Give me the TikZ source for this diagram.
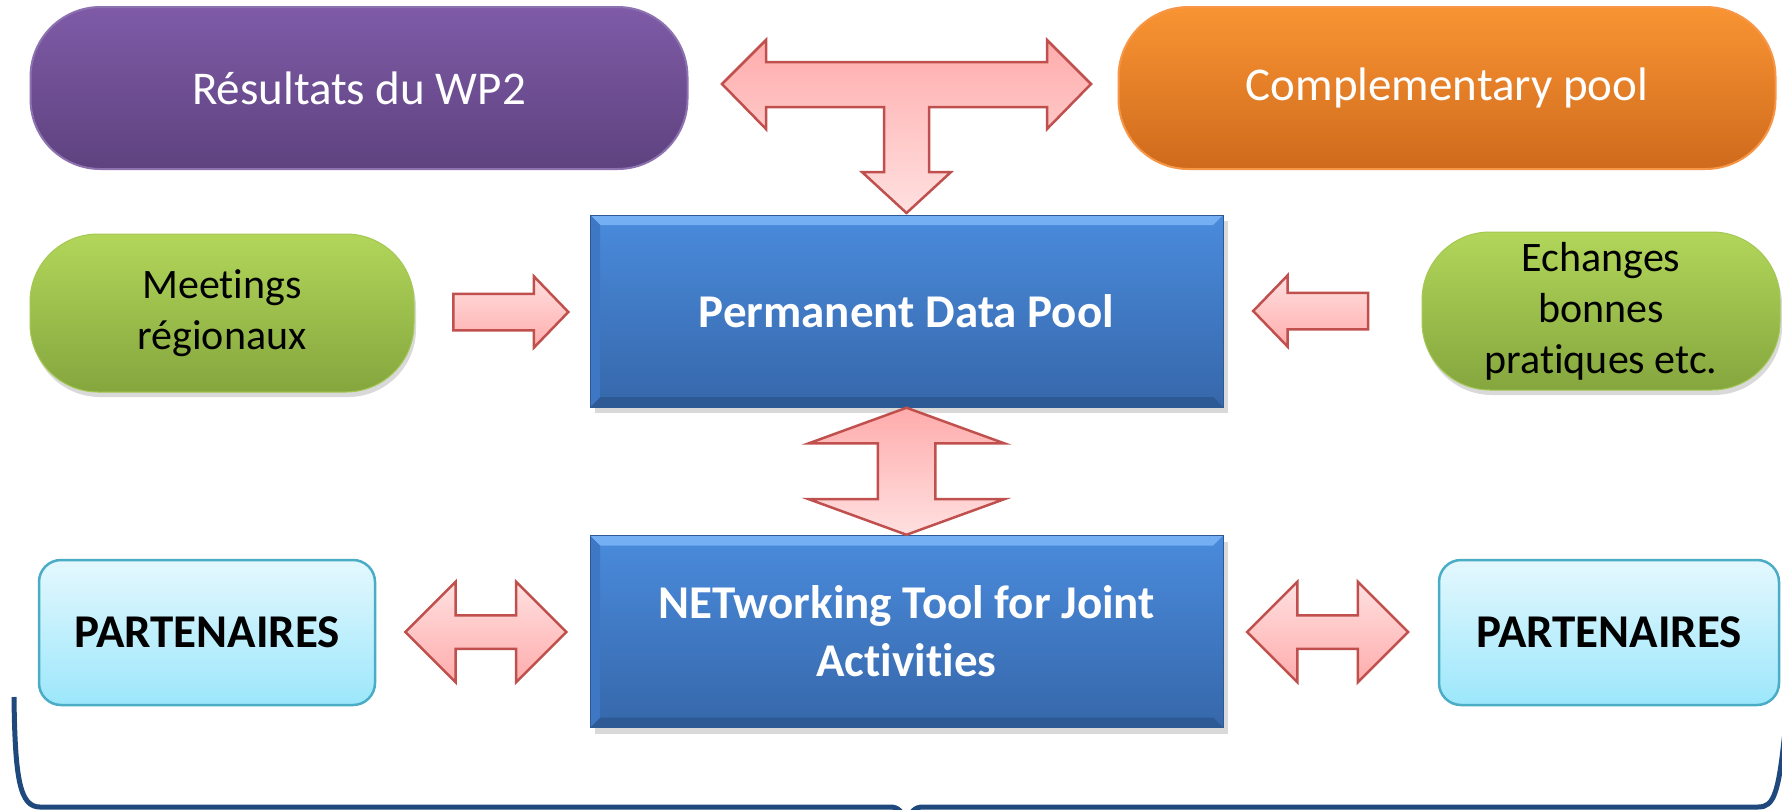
\documentclass[tikz,border=0pt]{standalone}
\usepackage{fontspec}
\setmainfont{Carlito}[Ligatures=NoCommon]
\usetikzlibrary{shapes.arrows,shadows,calc}

\definecolor{purpA}{HTML}{7F5BA7}
\definecolor{purpB}{HTML}{5E427F}
\definecolor{purpD}{HTML}{8D72B0}
\definecolor{orngA}{HTML}{F99433}
\definecolor{orngB}{HTML}{CF6A1D}
\definecolor{orngD}{HTML}{F79646}
\definecolor{grnA}{HTML}{B2D65A}
\definecolor{grnB}{HTML}{85A63E}
\definecolor{grnD}{HTML}{A3C853}
\definecolor{bluA}{HTML}{4A8BDC}
\definecolor{bluB}{HTML}{3667AA}
\definecolor{bluL}{HTML}{74AEF3}
\definecolor{bluK}{HTML}{2D5A94}
\definecolor{bluS}{HTML}{3E78C4}
\definecolor{cyanA}{HTML}{E4F8FE}
\definecolor{cyanB}{HTML}{9CE7FB}
\definecolor{cyanD}{HTML}{4BACC6}
\definecolor{pinkA}{HTML}{FFACAC}
\definecolor{pinkB}{HTML}{FFE0E0}
\definecolor{arrD}{HTML}{C0504D}
\definecolor{navy}{HTML}{1F497D}

\begin{document}
\begin{tikzpicture}[x=1pt, y=-1pt,
				every node/.style = {inner sep=0pt, align=center},
				pill/.style = {rounded corners=70pt, minimum width=657pt, minimum height=162pt,
					line width=2pt, text=white, font=\fontsize{47}{56}\selectfont},
				bean/.style = {rounded corners=68pt, minimum height=158pt,
					top color=grnA, bottom color=grnB, draw=grnD, line width=1pt,
					font=\fontsize{42}{51}\selectfont,
					drop shadow={shadow xshift=2pt, shadow yshift=-5pt, opacity=.3}},
				block/.style = {minimum width=633pt, minimum height=192pt,
					top color=bluA, bottom color=bluB, draw=bluK, line width=1pt,
					text=white, font=\bfseries\fontsize{47}{58}\selectfont,
					drop shadow={shadow xshift=5pt, shadow yshift=-6pt, opacity=.3},
					path picture={
						\fill[bluL] (path picture bounding box.north west) -- (path picture bounding box.north east)
							-- ([shift={(-10pt,-10pt)}]path picture bounding box.north east)
							-- ([shift={(10pt,-10pt)}]path picture bounding box.north west) -- cycle;
						\fill[bluK] (path picture bounding box.south west) -- (path picture bounding box.south east)
							-- ([shift={(-10pt,10pt)}]path picture bounding box.south east)
							-- ([shift={(10pt,10pt)}]path picture bounding box.south west) -- cycle;
						\fill[bluS] (path picture bounding box.north west) -- ([shift={(10pt,-10pt)}]path picture bounding box.north west)
							-- ([shift={(10pt,10pt)}]path picture bounding box.south west) -- (path picture bounding box.south west) -- cycle;
					}},
				partbox/.style = {rounded corners=22pt, minimum height=145pt,
					top color=cyanA, bottom color=cyanB, draw=cyanD, line width=2.5pt,
					font=\bfseries\fontsize{47}{56}\selectfont},
				blockarrow/.style = {draw=arrD, line width=2.5pt, top color=pinkB, bottom color=pinkA},
				hsingle/.style = {blockarrow, single arrow, single arrow tip angle=92,
					single arrow head extend=17.5pt, minimum height=115pt, inner xsep=0pt, inner ysep=17pt},
				hdouble/.style = {blockarrow, double arrow, double arrow tip angle=90,
					double arrow head extend=33.5pt, minimum height=161pt, inner xsep=0pt, inner ysep=15.5pt},
				vdouble/.style = {draw=arrD, line width=2.5pt, top color=pinkA, bottom color=pinkB,
					double arrow, rotate=90, double arrow tip angle=140,
					double arrow head extend=69pt, minimum height=127pt, inner xsep=0pt, inner ysep=27.5pt}
				]
				\useasboundingbox (0,0) rectangle (1782,809);

				\node[pill, top color=purpA, bottom color=purpB, draw=purpD] (wp) at (359,88) {Résultats du WP2};
				\node[pill, top color=orngA, bottom color=orngB, draw=orngD] (pool) at (1447,88) {Complementary pool};
				\node[block] (pdp) at (906.5,311) {Permanent Data Pool};
				\node[block] (net) at (906.5,631.5) {NETworking Tool for Joint\\Activities};
				\node[bean, minimum width=384pt] (meet) at (222,313) {Meetings\\régionaux};
				\node[bean, minimum width=358pt] (ech) at (1601,311) {Echanges\\bonnes\\pratiques etc.};
				\node[partbox, minimum width=336pt] (partl) at (207,632.5) {PARTENAIRES};
				\node[partbox, minimum width=340pt] (partr) at (1609,632.5) {PARTENAIRES};

				\node[hsingle] (am) at ($(meet.east)!.5!(pdp.west)$) {};
				\node[hsingle, shape border rotate=180] (ae) at ([xshift=-3pt]$(pdp.east)!.5!(ech.west)$) {};
				\node[hdouble] (apl) at ([xshift=3pt]$(partl.east)!.5!(net.west)$) {};
				\node[hdouble] (apr) at ([xshift=-3pt]$(net.east)!.5!(partr.west)$) {};
				\node[vdouble] (av) at ($(pdp.south)!.5!(net.north)$) {};

				\filldraw[draw=arrD, line width=2.5pt, top color=pinkA, bottom color=pinkB]
				(722,84) -- (766,40) -- (766,62) -- (1047,62) -- (1047,40) -- (1091,84) --
				(1047,129) -- (1047,107) -- (929,107) -- (929,172) -- (951,172) --
				(906.5,213) -- (862,172) -- (884,172) -- (884,107) -- (766,107) --
				(766,129) -- cycle;

				\draw[navy, line width=5pt]
				(14,697) .. controls (15,780) and (20,807) .. (40,807) -- (890,807)
				.. controls (898,807) and (903,811) .. (906,825)
				(907,825) .. controls (910,811) and (915,807) .. (923,807) -- (1758,807)
				.. controls (1774,807) and (1779,795) .. (1786,720);
				\end{tikzpicture}
\end{document}
